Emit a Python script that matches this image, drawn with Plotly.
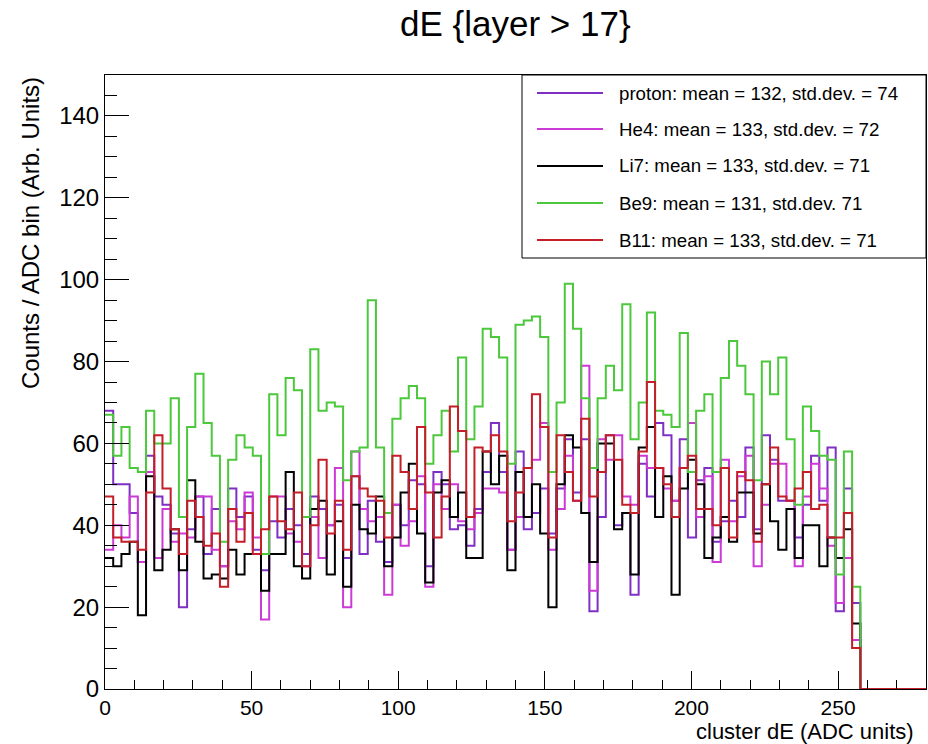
import numpy as np
import plotly.graph_objects as go

# ---------------- data ----------------
bin_low, bin_high, n_bins = 0.0, 280.0, 100

proton = [68,50,50,43,31,57,47,45,38,20,
          39,47,33,44,30,49,42,47,34,29,
          41,37,44,40,33,47,44,40,45,32,
          52,33,46,36,31,45,40,51,50,30,
          53,50,39,40,35,44,53,65,53,34,
          58,39,43,49,38,49,61,48,61,19,
          42,62,40,43,23,55,47,65,62,46,
          61,37,51,54,36,41,46,42,59,39,
          62,56,46,46,37,45,57,46,59,19,
          49,21,0,0,0,0,0,0,0,0]
he4 = [34,40,37,47,31,53,32,44,36,38,
       37,47,47,34,30,41,39,48,37,17,
       47,47,38,36,30,42,32,40,54,20,
       58,44,41,42,23,45,35,41,52,25,
       50,44,50,41,39,43,49,49,48,34,
       42,42,56,65,34,44,57,46,79,24,
       61,56,62,47,45,57,54,54,49,46,
       54,65,42,52,31,56,41,52,57,30,
       45,55,55,46,30,47,55,49,35,21,
       32,12,0,0,0,0,0,0,0,0]
li7 = [32,30,33,36,18,52,29,34,39,29,
       51,36,27,28,27,34,28,33,33,24,
       33,33,53,30,27,44,46,28,41,25,
       45,39,38,47,30,37,48,55,38,26,
       48,51,42,48,32,32,58,50,57,29,
       53,42,50,38,20,50,62,59,43,31,
       60,60,39,43,28,59,64,42,52,23,
       49,56,50,32,37,42,36,48,48,38,
       50,41,34,44,32,40,40,30,37,32,
       39,16,0,0,0,0,0,0,0,0]
be9 = [67,57,64,54,53,68,60,60,71,42,
       64,77,65,57,36,56,62,59,57,33,
       72,62,76,73,42,83,68,70,69,51,
       58,59,95,59,43,66,71,74,71,55,
       62,68,58,81,61,69,88,86,81,55,
       89,90,91,86,53,70,99,88,71,54,
       71,79,73,94,61,70,92,68,67,64,
       87,53,68,72,53,76,85,79,72,51,
       80,72,81,61,45,69,63,57,56,28,
       58,25,0,0,0,0,0,0,0,0]
b11 = [47,37,36,36,34,48,62,49,39,33,
       46,42,35,38,25,44,36,43,33,39,
       47,41,39,48,30,40,56,38,46,34,
       52,49,47,46,37,57,53,44,64,48,
       37,47,69,63,42,59,58,62,58,41,
       48,54,72,64,37,62,53,46,66,47,
       53,62,56,45,43,58,75,54,50,42,
       54,57,44,44,40,54,37,53,51,36,
       50,59,47,46,49,53,44,45,37,37,
       43,10,0,0,0,0,0,0,0,0]

series_names = ["proton: mean = 132, std.dev. = 74",
                "He4: mean = 133, std.dev. = 72",
                "Li7: mean = 133, std.dev. = 71",
                "Be9: mean = 131, std.dev. 71",
                "B11: mean = 133, std.dev. = 71"]
series_values = [proton, he4, li7, be9, b11]
series_colors = ["#7f2fc4", "#cc3ad6", "#000000", "#4cc83c", "#c41e28"]

x_tick_vals = [0, 50, 100, 150, 200, 250]
x_tick_text = ["0", "50", "100", "150", "200", "250"]
y_tick_vals = [0, 20, 40, 60, 80, 100, 120, 140]
y_tick_text = ["0", "20", "40", "60", "80", "100", "120", "140"]

title_text = "dE {layer > 17}"
x_title = "cluster dE (ADC units)"
y_title = "Counts / ADC bin (Arb. Units)"

# ---------------- figure ----------------
FONT = "Liberation Sans, Arial, Helvetica, sans-serif"
W, H = 928, 744
L, R, T, B = 105, 2, 75, 55
pw, ph = W - L - R, H - T - B

def px_x(p):
    return (p - L) / pw

def px_y(p):
    return (H - B - p) / ph

edges = np.linspace(bin_low, bin_high, n_bins + 1)

fig = go.Figure()
for name, vals, col in zip(series_names, series_values, series_colors):
    yy = list(vals) + [vals[-1]]
    fig.add_trace(go.Scatter(x=edges, y=yy, mode="lines", name=name,
                             line=dict(color=col, width=2, shape="hv"),
                             showlegend=False, hoverinfo="skip"))

fig.update_layout(
    width=W, height=H,
    margin=dict(l=L, r=R, t=T, b=B),
    paper_bgcolor="white", plot_bgcolor="white",
    font=dict(family=FONT, color="black"),
    showlegend=False,
)
fig.update_xaxes(range=[bin_low, bin_high], showgrid=False, zeroline=False,
                 showline=True, linecolor="black", linewidth=1, mirror=True,
                 ticks="inside", ticklen=18, tickwidth=1, tickcolor="black",
                 tickmode="array", tickvals=x_tick_vals, ticktext=x_tick_text,
                 tickfont=dict(size=21, family=FONT),
                 minor=dict(ticks="inside", ticklen=9, tickwidth=1,
                            tickcolor="black", dtick=10, tick0=0, showgrid=False))
fig.update_yaxes(range=[0, 150], showgrid=False, zeroline=False,
                 showline=True, linecolor="black", linewidth=1, mirror=True,
                 ticks="inside", ticklen=24, tickwidth=1, tickcolor="black",
                 tickmode="array", tickvals=y_tick_vals, ticktext=y_tick_text,
                 tickfont=dict(size=24, family=FONT),
                 minor=dict(ticks="inside", ticklen=12, tickwidth=1,
                            tickcolor="black", dtick=5, tick0=0, showgrid=False))

ann = []
ann.append(dict(text=title_text, xref="paper", yref="paper",
                x=0.5, y=px_y(24), xanchor="center", yanchor="middle",
                showarrow=False, font=dict(size=35, family=FONT)))
ann.append(dict(text=x_title, xref="paper", yref="paper",
                x=px_x(916), y=px_y(746), xanchor="right", yanchor="bottom",
                showarrow=False, font=dict(size=22, family=FONT)))
ann.append(dict(text=y_title, xref="paper", yref="paper",
                x=px_x(30), y=1.0, xanchor="center", yanchor="top",
                textangle=-90, showarrow=False, font=dict(size=24, family=FONT)))

shapes = [dict(type="rect", xref="paper", yref="paper",
               x0=px_x(522), x1=1.0, y0=px_y(258), y1=1.0,
               line=dict(color="black", width=1), fillcolor="white", layer="above")]
entry_py = [93, 129, 166, 203, 240]
for name, col, py in zip(series_names, series_colors, entry_py):
    shapes.append(dict(type="line", xref="paper", yref="paper",
                       x0=px_x(537), x1=px_x(603), y0=px_y(py), y1=px_y(py),
                       line=dict(color=col, width=2), layer="above"))
    ann.append(dict(text=name, xref="paper", yref="paper",
                    x=px_x(617), y=px_y(py), xanchor="left", yanchor="middle",
                    showarrow=False, font=dict(size=18.7, family=FONT)))

fig.update_layout(annotations=ann, shapes=shapes)
fig.write_html("out.html", config={"displayModeBar": False},
               post_script="document.body.style.margin='0px';document.body.style.padding='0px';")
